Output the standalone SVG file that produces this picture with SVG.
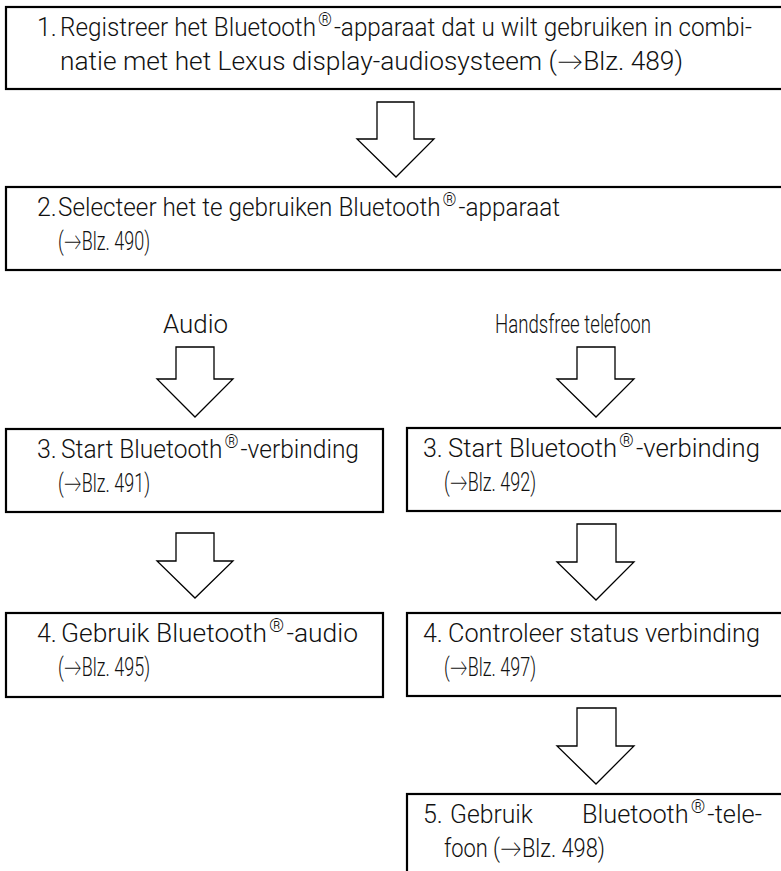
<svg xmlns="http://www.w3.org/2000/svg" width="781" height="871" viewBox="0 0 781 871">
  <style>
    .box { fill: #fff; stroke: #000; stroke-width: 2.2; }
    .arrow { fill: #fff; stroke: #000; stroke-width: 1.3; stroke-linejoin: miter; }
    text { font-family: Roboto, Lato, "Liberation Sans", sans-serif; font-size: 25px; font-weight: 300; fill: #111; }
    .reg { font-size: 18px; }
  </style>
  <rect width="781" height="871" fill="#fff"/>

  <!-- flow arrows -->
  <g id="connectors">
    <path class="arrow" d="M377,102 H414 V139 H434 L396,177 L357,139 H377 Z"/>
    <path class="arrow" d="M176,347 H214 V379 H233 L195,417 L157,379 H176 Z"/>
    <path class="arrow" d="M577,347 H615 V379 H634 L596,417 L557,379 H577 Z"/>
    <path class="arrow" d="M176,533 H214 V561 H233 L195,598 L157,561 H176 Z"/>
    <path class="arrow" d="M577,524 H616 V562 H634 L596,600 L557,562 H577 Z"/>
    <path class="arrow" d="M577,708 H616 V746 H634 L596,784 L557,746 H577 Z"/>
  </g>

  <!-- step 1 -->
  <g id="step1">
    <rect class="box" x="6" y="7" width="790" height="82"/>
    <text x="37" y="36">1.</text>
    <text x="60" y="36" textLength="692" lengthAdjust="spacingAndGlyphs">Registreer het Bluetooth<tspan class="reg" dx="2" dy="-10">®</tspan><tspan dx="2" dy="10">-apparaat dat u wilt gebruiken in combi-</tspan></text>
    <text x="60" y="70" textLength="623" lengthAdjust="spacingAndGlyphs">natie met het Lexus display-audiosysteem (→Blz. 489)</text>
  </g>

  <!-- step 2 -->
  <g id="step2">
    <rect class="box" x="6" y="187" width="790" height="83"/>
    <text x="37" y="216">2.</text>
    <text x="58" y="216" textLength="502" lengthAdjust="spacingAndGlyphs">Selecteer het te gebruiken Bluetooth<tspan class="reg" dx="2" dy="-10">®</tspan><tspan dx="2" dy="10">-apparaat</tspan></text>
    <text x="58" y="250" textLength="92" lengthAdjust="spacingAndGlyphs">(→Blz. 490)</text>
  </g>

  <!-- branch labels -->
  <g id="label-audio">
    <text x="163" y="333" textLength="65" lengthAdjust="spacingAndGlyphs">Audio</text>
  </g>
  <g id="label-handsfree">
    <text x="495" y="333" textLength="156" lengthAdjust="spacingAndGlyphs">Handsfree telefoon</text>
  </g>

  <!-- audio branch -->
  <g id="step3-audio">
    <rect class="box" x="6" y="429" width="377" height="83"/>
    <text x="37" y="458">3.</text>
    <text x="61" y="458" textLength="298" lengthAdjust="spacingAndGlyphs">Start  Bluetooth<tspan class="reg" dx="2" dy="-10">®</tspan><tspan dx="2" dy="10">-verbinding</tspan></text>
    <text x="58" y="492" textLength="92" lengthAdjust="spacingAndGlyphs">(→Blz. 491)</text>
  </g>
  <g id="step4-audio">
    <rect class="box" x="6" y="613" width="377" height="84"/>
    <text x="37" y="642">4.</text>
    <text x="61" y="642" textLength="297" lengthAdjust="spacingAndGlyphs">Gebruik Bluetooth<tspan class="reg" dx="2" dy="-10">®</tspan><tspan dx="2" dy="10">-audio</tspan></text>
    <text x="58" y="676" textLength="92" lengthAdjust="spacingAndGlyphs">(→Blz. 495)</text>
  </g>

  <!-- handsfree branch -->
  <g id="step3-phone">
    <rect class="box" x="407" y="428" width="390" height="83"/>
    <text x="423" y="457">3.</text>
    <text x="448" y="457" textLength="312" lengthAdjust="spacingAndGlyphs">Start  Bluetooth<tspan class="reg" dx="2" dy="-10">®</tspan><tspan dx="2" dy="10">-verbinding</tspan></text>
    <text x="444" y="491" textLength="92" lengthAdjust="spacingAndGlyphs">(→Blz. 492)</text>
  </g>
  <g id="step4-phone">
    <rect class="box" x="407" y="613" width="390" height="83"/>
    <text x="423" y="642">4.</text>
    <text x="448" y="642" textLength="312" lengthAdjust="spacingAndGlyphs">Controleer status verbinding</text>
    <text x="444" y="676" textLength="92" lengthAdjust="spacingAndGlyphs">(→Blz. 497)</text>
  </g>
  <g id="step5-phone">
    <rect class="box" x="407" y="794" width="390" height="100"/>
    <text x="423" y="823">5.</text>
    <text x="450" y="823" textLength="83" lengthAdjust="spacingAndGlyphs">Gebruik</text>
    <text x="582" y="823" textLength="180" lengthAdjust="spacingAndGlyphs">Bluetooth<tspan class="reg" dx="2" dy="-10">®</tspan><tspan dx="2" dy="10">-tele-</tspan></text>
    <text x="444" y="857" textLength="161" lengthAdjust="spacingAndGlyphs">foon (→Blz. 498)</text>
  </g>
</svg>
